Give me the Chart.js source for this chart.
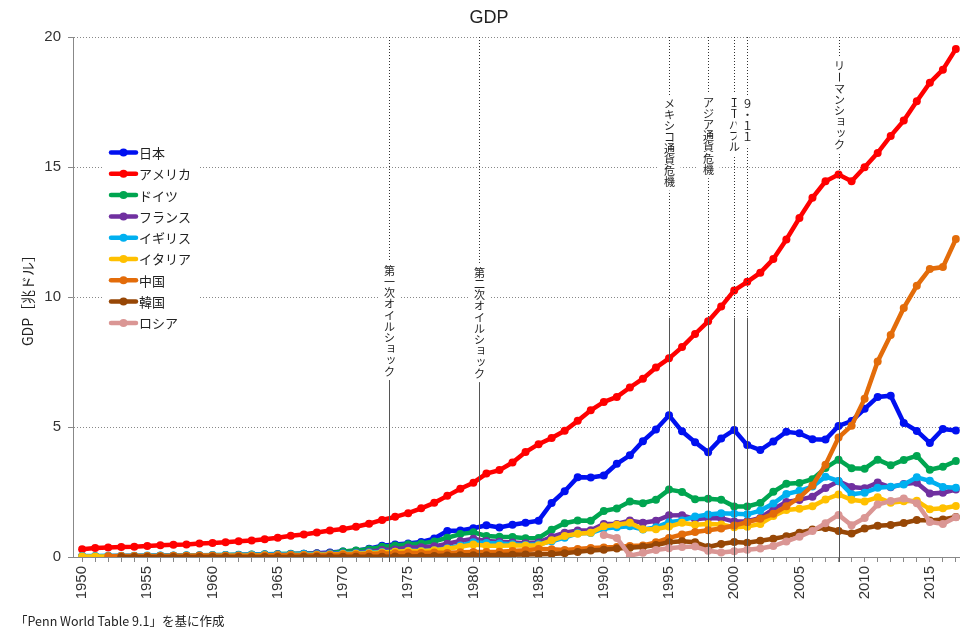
<!DOCTYPE html>
<html lang="ja">
<head>
<meta charset="utf-8">
<title>GDP</title>
<script src="https://cdn.jsdelivr.net/npm/chart.js@4.4.1/dist/chart.umd.min.js"></script>
<style>
  html, body { margin: 0; padding: 0; background: #fff; }
  #wrap { width: 978px; height: 639px; position: relative; }
</style>
</head>
<body>
<div id="wrap"><canvas id="gdpChart"></canvas></div>
<script>
// Years 1950-2017
const years = [];
for (let yr = 1950; yr <= 2017; yr++) years.push(yr);

// GDP, trillion US$ (one value per year, null = no data)
const japan = [0.011,0.014,0.017,0.020,0.022,0.025,0.028,0.032,0.034,0.039,
  0.044,0.054,0.060,0.069,0.082,0.091,0.106,0.124,0.147,0.173,
  0.213,0.240,0.318,0.432,0.479,0.521,0.576,0.709,1.003,1.023,
  1.105,1.218,1.134,1.243,1.318,1.399,2.078,2.532,3.072,3.054,
  3.133,3.584,3.909,4.454,4.907,5.449,4.833,4.415,4.033,4.562,
  4.888,4.304,4.115,4.445,4.815,4.755,4.530,4.515,5.038,5.231,
  5.700,6.157,6.203,5.156,4.850,4.389,4.923,4.867];
const usa = [0.300,0.348,0.368,0.389,0.391,0.426,0.449,0.474,0.482,0.522,
  0.543,0.563,0.605,0.638,0.686,0.744,0.815,0.862,0.943,1.019,
  1.073,1.165,1.280,1.425,1.545,1.685,1.873,2.083,2.351,2.627,
  2.857,3.207,3.343,3.634,4.037,4.339,4.580,4.855,5.236,5.642,
  5.963,6.158,6.520,6.859,7.287,7.640,8.073,8.577,9.063,9.631,
  10.252,10.582,10.936,11.458,12.214,13.037,13.815,14.452,14.713,14.449,
  14.992,15.543,16.197,16.785,17.527,18.238,18.745,19.543];
const germany = [0.020,0.024,0.028,0.032,0.035,0.040,0.045,0.050,0.055,0.062,
  0.072,0.080,0.088,0.094,0.104,0.115,0.122,0.124,0.136,0.157,
  0.216,0.249,0.300,0.398,0.446,0.489,0.518,0.600,0.740,0.881,
  0.950,0.810,0.782,0.771,0.724,0.732,1.046,1.298,1.402,1.398,
  1.772,1.869,2.132,2.071,2.206,2.592,2.504,2.218,2.243,2.200,
  1.947,1.945,2.079,2.505,2.815,2.846,2.993,3.425,3.745,3.412,
  3.397,3.745,3.527,3.733,3.889,3.357,3.469,3.690];
const france = [0.025,0.029,0.032,0.034,0.037,0.040,0.044,0.048,0.052,0.056,
  0.062,0.067,0.076,0.085,0.094,0.102,0.110,0.119,0.130,0.141,
  0.149,0.166,0.204,0.265,0.287,0.362,0.373,0.410,0.507,0.614,
  0.701,0.615,0.584,0.559,0.530,0.553,0.771,0.935,1.019,1.025,
  1.269,1.269,1.401,1.322,1.393,1.601,1.606,1.453,1.503,1.493,
  1.362,1.377,1.501,1.844,2.120,2.196,2.319,2.657,2.918,2.690,
  2.643,2.862,2.681,2.811,2.852,2.439,2.472,2.595];
const uk = [0.037,0.041,0.044,0.047,0.050,0.054,0.058,0.062,0.064,0.068,
  0.073,0.077,0.081,0.086,0.094,0.100,0.107,0.111,0.104,0.112,
  0.131,0.148,0.170,0.193,0.206,0.241,0.233,0.264,0.336,0.438,
  0.565,0.540,0.515,0.489,0.462,0.489,0.601,0.745,0.910,0.926,
  1.093,1.142,1.179,1.061,1.140,1.335,1.408,1.554,1.635,1.687,
  1.662,1.642,1.785,2.055,2.421,2.544,2.709,3.091,2.923,2.411,
  2.475,2.660,2.704,2.786,3.065,2.928,2.694,2.666];
const italy = [0.015,0.017,0.019,0.021,0.023,0.025,0.028,0.031,0.034,0.037,
  0.040,0.045,0.050,0.058,0.063,0.067,0.073,0.081,0.088,0.097,
  0.113,0.124,0.145,0.175,0.200,0.227,0.224,0.258,0.315,0.394,
  0.478,0.432,0.428,0.443,0.441,0.455,0.643,0.806,0.892,0.932,
  1.180,1.243,1.318,1.065,1.072,1.171,1.313,1.242,1.270,1.252,
  1.146,1.168,1.270,1.577,1.806,1.858,1.949,2.213,2.408,2.199,
  2.136,2.294,2.087,2.141,2.162,1.836,1.877,1.961];
const china = [null,null,0.030,0.035,0.036,0.038,0.042,0.045,0.052,0.057,
  0.060,0.050,0.047,0.051,0.059,0.070,0.076,0.072,0.070,0.079,
  0.093,0.100,0.114,0.139,0.144,0.164,0.154,0.175,0.150,0.178,
  0.191,0.196,0.205,0.231,0.260,0.309,0.301,0.273,0.312,0.348,
  0.361,0.383,0.427,0.445,0.564,0.734,0.863,0.962,1.029,1.094,
  1.211,1.339,1.471,1.660,1.955,2.286,2.752,3.550,4.594,5.050,
  6.087,7.520,8.540,9.580,10.430,11.080,11.150,12.230];
const korea = [null,null,null,0.002,0.002,0.002,0.002,0.002,0.002,0.002,
  0.004,0.002,0.002,0.003,0.003,0.003,0.004,0.005,0.006,0.008,
  0.009,0.010,0.011,0.014,0.019,0.022,0.030,0.039,0.053,0.066,
  0.065,0.072,0.078,0.088,0.097,0.101,0.116,0.147,0.197,0.246,
  0.283,0.330,0.355,0.392,0.463,0.566,0.610,0.570,0.383,0.497,
  0.576,0.548,0.627,0.703,0.794,0.934,1.053,1.120,1.000,0.900,
  1.100,1.200,1.230,1.310,1.420,1.400,1.440,1.540];
const russia = Array(40).fill(null).concat([0.85,0.73,0.05,0.16,0.27,0.34,0.38,0.40,0.24,0.17,
  0.22,0.28,0.33,0.42,0.60,0.78,1.00,1.30,1.62,1.22,
  1.50,2.02,2.15,2.25,2.07,1.35,1.27,1.53]);

const seriesNames = ['日本', 'アメリカ', 'ドイツ', 'フランス', 'イギリス', 'イタリア', '中国', '韓国', 'ロシア'];
const seriesValues = [japan, usa, germany, france, uk, italy, china, korea, russia];
const seriesColors = ['#0010f0', '#ff0000', '#00a550', '#7030a0', '#00b0f0', '#ffc000', '#e36c0a', '#974706', '#da9694'];

const yTicks = [0, 5, 10, 15, 20];

// Events (year position on the axis) and their labels
const eventYears = [1973.5, 1980.4, 1995, 1998, 2000, 2001, 2008];
const eventNames = ['第一次オイルショック', '第二次オイルショック', 'メキシコ通貨危機', 'アジア通貨危機', 'ＩＴバブル', '９・１１', 'リーマンショック'];
const eventLabelTop = [11.23, 11.15, 17.65, 17.7, 17.7, 17.65, 19.1]; // label top, in axis units

const FONT = '"Liberation Sans", "Noto Sans CJK JP", sans-serif';
const JP_FONT = '"Noto Sans CJK JP", "Liberation Sans", sans-serif';

function drawVertical(ctx, text, cx, top, step) {
  const small = 'ッョャュァィゥェォ';
  [...text].forEach((ch, k) => {
    ctx.save();
    ctx.translate(cx, top + step * k + step / 2);
    if (small.includes(ch)) ctx.translate(1.5, -1.5);
    if (ch === 'ー') ctx.rotate(Math.PI / 2);
    ctx.fillText(ch, 0, 0);
    ctx.restore();
  });
}

const decorPlugin = {
  id: 'decor',
  afterDatasetsDraw(chart) {
    const { ctx, chartArea, scales: { x, y } } = chart;
    const split = y.getPixelForValue(9.2);
    const step = 11.2;
    ctx.save();
    eventYears.forEach((yr, i) => {
      const px = Math.round(x.getPixelForValue(yr)) + 0.5;
      ctx.lineWidth = 1;
      ctx.strokeStyle = '#333';
      ctx.setLineDash([1, 2]);
      ctx.beginPath();
      ctx.moveTo(px, chartArea.top);
      ctx.lineTo(px, split);
      ctx.stroke();
      ctx.setLineDash([]);
      ctx.strokeStyle = '#555';
      ctx.beginPath();
      ctx.moveTo(px, split);
      ctx.lineTo(px, chartArea.bottom + 5);
      ctx.stroke();

      const top = y.getPixelForValue(eventLabelTop[i]);
      const n = [...eventNames[i]].length;
      ctx.fillStyle = '#fff';
      ctx.fillRect(px - 11, top - 3, 22, n * step + 6);
      ctx.fillStyle = '#222';
      ctx.font = '11px ' + JP_FONT;
      ctx.textAlign = 'center';
      ctx.textBaseline = 'middle';
      drawVertical(ctx, eventNames[i], px, top, step);
    });
    ctx.restore();
  },
  afterDraw(chart) {
    const { ctx, chartArea } = chart;
    ctx.save();
    // title
    ctx.fillStyle = '#222';
    ctx.font = '18px ' + FONT;
    ctx.textAlign = 'center';
    ctx.textBaseline = 'middle';
    ctx.fillText('GDP', 489, 18);

    // y axis title
    ctx.save();
    ctx.translate(28, (chartArea.top + chartArea.bottom) / 2);
    ctx.rotate(-Math.PI / 2);
    ctx.font = '14px ' + JP_FONT;
    ctx.fillText('GDP［兆ドル］', 0, 0);
    ctx.restore();

    // legend
    ctx.fillStyle = '#fff';
    ctx.fillRect(103, 142, 95, 192);
    ctx.font = '13px ' + JP_FONT;
    ctx.textAlign = 'left';
    seriesNames.forEach((name, i) => {
      const ly = 152.5 + i * 21.3;
      ctx.strokeStyle = seriesColors[i];
      ctx.lineWidth = 4.5;
      ctx.lineCap = 'round';
      ctx.beginPath();
      ctx.moveTo(111, ly);
      ctx.lineTo(136, ly);
      ctx.stroke();
      ctx.fillStyle = seriesColors[i];
      ctx.beginPath();
      ctx.arc(123.5, ly, 4, 0, Math.PI * 2);
      ctx.fill();
      ctx.fillStyle = '#222';
      ctx.fillText(name, 139, ly + 0.5);
    });

    // source note
    ctx.font = '12.5px ' + JP_FONT;
    ctx.fillStyle = '#222';
    ctx.fillText('「Penn World Table 9.1」を基に作成', 15, 621);
    ctx.restore();
  }
};

const datasets = seriesNames.map((name, i) => ({
  label: name,
  data: years.map((yr, k) => ({ x: yr, y: seriesValues[i][k] })).filter(p => p.y !== null),
  borderColor: seriesColors[i],
  backgroundColor: seriesColors[i],
  pointBackgroundColor: seriesColors[i],
  pointBorderColor: seriesColors[i],
  borderWidth: 4.5,
  pointRadius: 4,
  pointBorderWidth: 0,
  tension: 0,
  order: seriesNames.length - i
}));

new Chart(document.getElementById('gdpChart'), {
  type: 'line',
  data: { datasets },
  options: {
    responsive: true,
    maintainAspectRatio: false,
    animation: false,
    layout: { padding: { top: 37, right: 17, bottom: 0, left: 0 } },
    plugins: {
      legend: { display: false },
      title: { display: false },
      tooltip: { enabled: false }
    },
    scales: {
      x: {
        type: 'linear',
        min: 1949.3,
        max: 2017.3,
        afterBuildTicks: scale => { scale.ticks = years.map(v => ({ value: v })); },
        afterFit: scale => { scale.height = 82; },
        ticks: {
          autoSkip: false,
          minRotation: 90,
          maxRotation: 90,
          padding: 4,
          color: '#333',
          font: { family: FONT, size: 15 },
          callback: v => (v % 5 === 0 ? String(v) : '')
        },
        grid: { drawOnChartArea: false, tickLength: 5, color: '#888' },
        border: { color: '#888', width: 1 }
      },
      y: {
        min: 0,
        max: 20,
        afterBuildTicks: scale => { scale.ticks = yTicks.map(v => ({ value: v })); },
        afterFit: scale => { scale.width = 73; },
        ticks: {
          padding: 7,
          color: '#333',
          font: { family: FONT, size: 15 }
        },
        grid: {
          tickLength: 5,
          color: c => (c.tick && c.tick.value === 0 ? 'rgba(0,0,0,0)' : '#888'),
          tickColor: '#888'
        },
        border: { color: '#888', width: 1, dash: [1, 2] }
      }
    }
  },
  plugins: [decorPlugin]
});
</script>
</body>
</html>
